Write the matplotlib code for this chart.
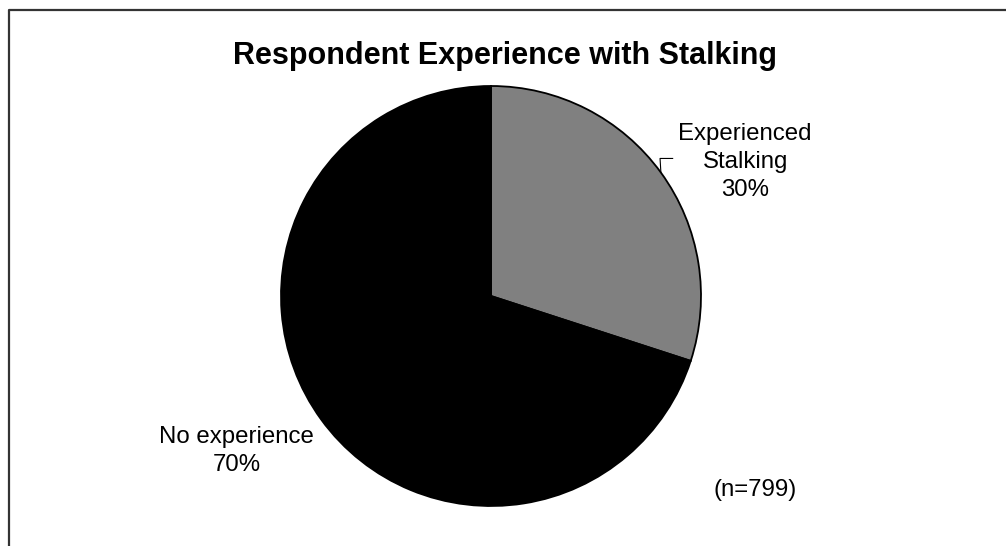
import numpy as np
import matplotlib
matplotlib.use('Agg')
import matplotlib.pyplot as plt
from matplotlib.lines import Line2D

plt.rcParams['font.family'] = ['Liberation Sans', 'DejaVu Sans']

title = 'Respondent Experience with Stalking'
labels = ['Experienced\nStalking', 'No experience']
values = [30, 70]
colors = ['#808080', '#000000']
note = '(n=799)'

fig = plt.figure(figsize=(10.06, 5.46), dpi=100)
fig.patch.set_facecolor('white')

# pie sits in its own square axes
ax = fig.add_axes([281/1006, 40/546, 420/1006, 420/546])
wedges, _ = ax.pie(values, colors=colors, startangle=90, counterclock=False,
                   wedgeprops=dict(edgecolor='black', linewidth=1.3))
ax.set_xlim(-1, 1)
ax.set_ylim(-1, 1)
ax.set_aspect('equal')
ax.axis('off')

total = float(sum(values))
pcts = ['%d%%' % round(v / total * 100) for v in values]

# label for the gray slice, with a small elbow leader
mid = np.deg2rad(90 - values[0] / total * 360 / 2)
px, py = np.cos(mid), np.sin(mid)
ax.plot([px, 0.805, 0.865], [py, 0.655, 0.655], color='black', lw=0.8, clip_on=False)
ax.text(1.21, 0.638, labels[0] + '\n' + pcts[0], ha='center', va='center',
        fontsize=17.3, linespacing=1.36)
ax.text(-1.21, -0.74, labels[1] + '\n' + pcts[1], ha='center', va='center',
        fontsize=17.3, linespacing=1.36)
ax.text(1.257, -0.924, note, ha='center', va='center', fontsize=17.3)

fig.text(505/1006, 1 - 56/546, title, ha='center', va='center',
         fontsize=22, fontweight='bold')

# chart border (top and left visible)
fig.add_artist(Line2D([8.5/1006, 8.5/1006, 1.0], [0.0, 1 - 9.5/546, 1 - 9.5/546],
                      transform=fig.transFigure, color='#333333', lw=1.6))

fig.savefig('out.png', dpi=100, facecolor='white')
